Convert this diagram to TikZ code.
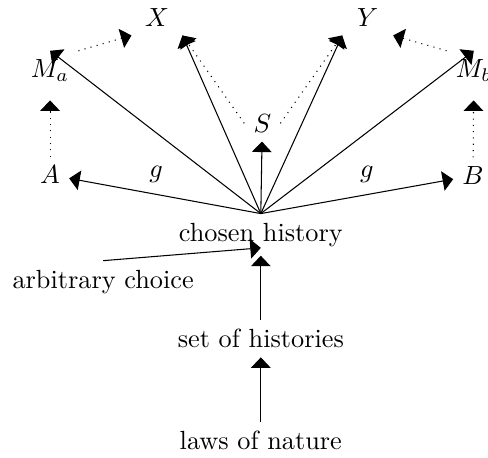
\documentclass[tikz,border=0pt]{standalone}
\usepackage{amsmath,amssymb}
\usepackage{tikz}
\usetikzlibrary{positioning,arrows.meta}

\begin{document}
\begin{tikzpicture}[
    node distance=0.86cm,
    label/.style={inner sep=3.33pt},
    target/.style={minimum width=19pt},
    arrow/.style={-{Triangle[length=4pt,width=7.5pt]}, black},
    dotarrow/.style={arrow, dotted}
]
    \useasboundingbox (-3.49,-2.98) rectangle (3.04,3.14);

    % chain from the laws up to the chosen history
    \node[label] (ch) at (0,0) {chosen history};
    \node[label, below=of ch] (set) {set of histories};
    \node[label, below=of set] (laws) {laws of nature};
    \node[label] (arb) at (-2.11,-0.63) {arbitrary choice};

    % what follows from the chosen history
    \node[label] (A) at (-2.82,0.80) {$A$};
    \node[label] (B) at (2.84,0.79) {$B$};
    \node[label] (gl) at (-1.40,0.80) {$g$};
    \node[label] (gr) at (1.42,0.80) {$g$};
    \node[label] (S) at (0.02,1.49) {$S$};
    \node[label] (Ma) at (-2.82,2.19) {$M_a$};
    \node[label] (Mb) at (2.85,2.19) {$M_b$};
    \node[label, target] (X) at (-1.39,2.91) {$X$};
    \node[label, target] (Y) at (1.43,2.91) {$Y$};

    \draw[arrow] (laws) -- (set);
    \draw[arrow] (set) -- (ch);
    \draw[arrow] (arb.north) -- ([yshift=3pt]ch.south);

    \draw[arrow] (ch.north) -- (A);
    \draw[arrow] (ch.north) -- (Ma.north);
    \draw[arrow] (ch.north) -- (X.south east);
    \draw[arrow] (ch.north) -- (S);
    \draw[arrow] (ch.north) -- (Y.south west);
    \draw[arrow] (ch.north) -- (Mb.north);
    \draw[arrow] (ch.north) -- (B);

    % dotted links
    \draw[dotarrow, shorten >=3.5pt] (A) -- (Ma);
    \draw[dotarrow, shorten >=3.5pt] (B) -- (Mb);
    \draw[dotarrow] (Ma.north east) -- (X.south west);
    \draw[dotarrow] (Mb.north west) -- (Y.south east);
    \draw[dotarrow] (S.west) -- (X.south east);
    \draw[dotarrow] (S.east) -- (Y.south west);
\end{tikzpicture}
\end{document}
